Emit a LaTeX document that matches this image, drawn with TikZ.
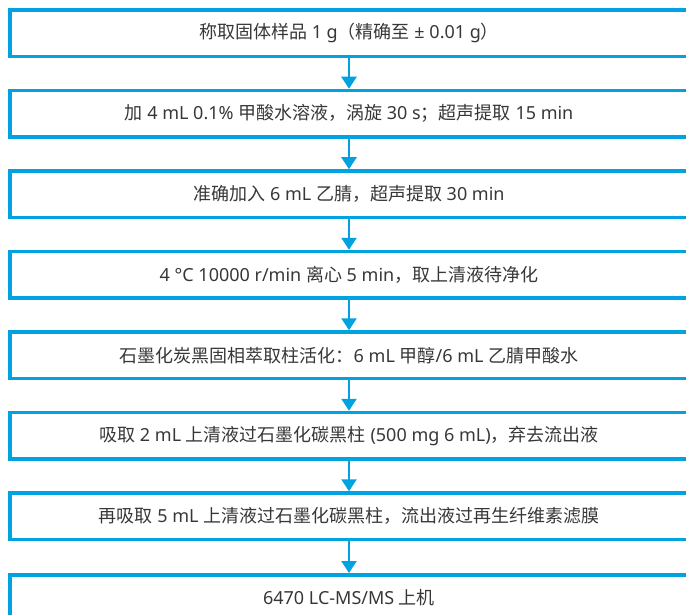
\documentclass[tikz,border=0pt]{standalone}
\usepackage{fontspec}
\setmainfont{Noto Sans}
\newfontfamily\cjk{Noto Sans CJK SC}
\newcommand{\C}[1]{{\cjk #1}}
\usetikzlibrary{arrows.meta}
\definecolor{ablue}{RGB}{0,163,224}
\definecolor{txtc}{RGB}{55,55,55}
\tikzset{
  stepbox/.style={draw=ablue, line width=3.5pt, minimum width=678pt, minimum height=46.5pt,
    inner sep=0pt, text=txtc, font=\fontsize{18}{20}\selectfont},
  flowarrow/.style={draw=ablue, line width=2.5pt, -{Triangle[length=12pt,width=15pt]}}
}
\begin{document}
\begin{tikzpicture}[x=1pt,y=-1pt]
\useasboundingbox (0,0) rectangle (686,615);
\clip (0,0) rectangle (686,615);
\node[stepbox] (b1) at (349,33.25) {\C{称取固体样品} 1 g\C{（精确至} ± 0.01 g\C{）}};
\node[stepbox] (b2) at (349,113.75) {\C{加} 4 mL 0.1\% \C{甲酸水溶液，涡旋} 30 s\C{；超声提取} 15 min};
\node[stepbox] (b3) at (349,194.25) {\C{准确加入} 6 mL \C{乙腈，超声提取} 30 min};
\node[stepbox] (b4) at (349,274.75) {4 °C 10000 r/min \C{离心} 5 min\C{，取上清液待净化}};
\node[stepbox] (b5) at (349,355.25) {\C{石墨化炭黑固相萃取柱活化：}6 mL \C{甲醇}/6 mL \C{乙腈甲酸水}};
\node[stepbox] (b6) at (349,435.75) {\C{吸取} 2 mL \C{上清液过石墨化碳黑柱} (500 mg 6 mL)\C{，弃去流出液}};
\node[stepbox] (b7) at (349,516.25) {\C{再吸取} 5 mL \C{上清液过石墨化碳黑柱，流出液过再生纤维素滤膜}};
\node[stepbox] (b8) at (349,598) {6470 LC-MS/MS \C{上机}};
\foreach \a/\b in {b1/b2,b2/b3,b3/b4,b4/b5,b5/b6,b6/b7,b7/b8}
  \draw[flowarrow] (\a.south) -- (\b.north);
\end{tikzpicture}
\end{document}
